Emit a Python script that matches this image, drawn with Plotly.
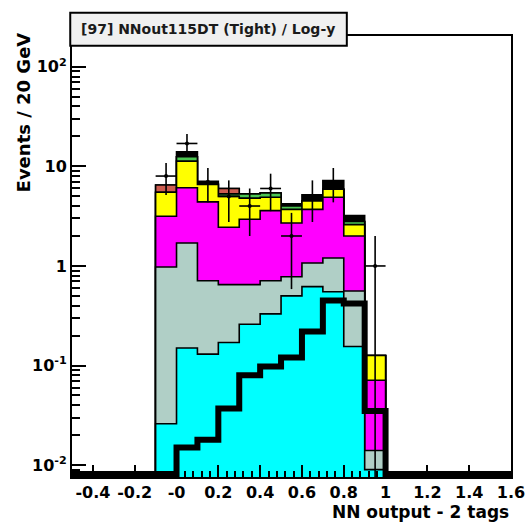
import numpy as np
import plotly.graph_objects as go

# Histogram binning (NN output, bins of 0.1)
bin_edges = [-0.1, 0.0, 0.1, 0.2, 0.3, 0.4, 0.5, 0.6, 0.7, 0.8, 0.9, 1.0]

# Background components, stacked from bottom to top
bkg_cyan = [0.026, 0.15, 0.13, 0.17, 0.26, 0.33, 0.50, 0.62, 0.55, 0.155, 0.009]
bkg_gray = [0.95, 1.55, 0.58, 0.48, 0.39, 0.38, 0.28, 0.45, 0.65, 0.405, 0.005]
bkg_magenta = [2.18, 4.4, 3.69, 1.8, 2.3, 2.89, 1.92, 2.63, 3.7, 1.44, 0.057]
bkg_yellow = [2.34, 5.2, 2.2, 2.55, 1.85, 1.3, 1.0, 0.8, 1.0, 0.6, 0.055]
bkg_green = [0.0, 1.2, 0.0, 0.3, 0.5, 0.5, 0.3, 0.0, 0.0, 0.2, 0.0]
bkg_red = [1.0, 0.0, 0.0, 0.7, 0.0, 0.0, 0.0, 0.0, 0.0, 0.0, 0.0]
bkg_black = [0.0, 1.5, 0.5, 0.0, 0.0, 0.0, 0.2, 0.7, 1.3, 0.4, 0.0]

# Signal expectation (drawn as thick line, not stacked)
signal = [0.0, 0.015, 0.018, 0.037, 0.08, 0.098, 0.12, 0.22, 0.45, 0.42, 0.035]

# Observed data counts
data_counts = [8, 17, 7, 5, 4, 6, 2, 5, 7, 0, 1]

# Axis settings
x_range = [-0.5, 1.6]
y_log_range = [-2.12, 2.31]
x_tick_vals = [-0.4, -0.2, 0.0, 0.2, 0.4, 0.6, 0.8, 1.0, 1.2, 1.4, 1.6]
x_tick_text = ["-0.4", "-0.2", "-0", "0.2", "0.4", "0.6", "0.8", "1", "1.2", "1.4", "1.6"]
y_tick_vals = [0.01, 0.1, 1, 10, 100]
y_tick_text = ["10<sup>-2</sup>", "10<sup>-1</sup>", "1", "10", "10<sup>2</sup>"]

stack_layers = [
    ("cyan", bkg_cyan, "#00ffff"),
    ("gray", bkg_gray, "#b0cfc6"),
    ("magenta", bkg_magenta, "#ff00ff"),
    ("yellow", bkg_yellow, "#ffff00"),
    ("green", bkg_green, "#4cc552"),
    ("red", bkg_red, "#cd5c50"),
    ("black", bkg_black, "#000000"),
]

FONT = "DejaVu Sans"
edges = np.array(bin_edges)
floor = 10 ** (y_log_range[0] - 1.0)


def step_xy(values, base):
    xs, ys = [edges[0]], [base]
    for i, v in enumerate(values):
        xs += [edges[i], edges[i + 1]]
        ys += [v, v]
    xs.append(edges[-1])
    ys.append(base)
    return xs, ys


fig = go.Figure()

# cumulative stack, drawn from the largest sum down so lower layers overlay
cumulative = np.cumsum([np.array(v) for _, v, _ in stack_layers], axis=0)
for k in range(len(stack_layers) - 1, -1, -1):
    name, _, color = stack_layers[k]
    xs, ys = step_xy(cumulative[k], floor)
    fig.add_trace(go.Scatter(
        x=xs, y=ys, mode="lines", fill="toself", fillcolor=color,
        line=dict(color="black", width=1.6), hoverinfo="skip", showlegend=False,
    ))

# signal histogram: empty bins rest on the bottom of the frame
bottom = 10 ** (y_log_range[0] + 0.03)
sig = [v if v > 0 else bottom for v in signal]
sx, sy = [x_range[0], edges[0]], [bottom, bottom]
for i, v in enumerate(sig):
    sx += [edges[i], edges[i + 1]]
    sy += [v, v]
sx += [edges[-1], x_range[1]]
sy += [bottom, bottom]
fig.add_trace(go.Scatter(
    x=sx, y=sy, mode="lines", line=dict(color="black", width=6),
    hoverinfo="skip", showlegend=False,
))

# data points with Poisson errors and bin-width horizontal bars
centers = (edges[:-1] + edges[1:]) / 2
half_w = (edges[1:] - edges[:-1]) / 2
counts = np.array(data_counts, dtype=float)
mask = counts > 0
err = np.sqrt(counts[mask])
err_lo = np.minimum(err, counts[mask] - 1e-4)
fig.add_trace(go.Scatter(
    x=centers[mask], y=counts[mask], mode="markers",
    marker=dict(color="black", size=4),
    error_x=dict(type="data", array=half_w[mask], color="black", thickness=1.6, width=0),
    error_y=dict(type="data", array=err, arrayminus=err_lo, symmetric=False,
                 color="black", thickness=1.6, width=0),
    hoverinfo="skip", showlegend=False,
))

x_minor = [round(v, 2) for v in np.arange(-0.48, 1.6, 0.04)]
y_minor = [m * 10.0 ** e for e in range(-3, 3) for m in range(2, 10)]

fig.update_layout(
    width=527, height=526,
    margin=dict(l=72, r=16, t=36, b=49, autoexpand=False),
    paper_bgcolor="white", plot_bgcolor="white",
    font=dict(family=FONT, color="black"),
    xaxis=dict(
        range=x_range, showgrid=False, zeroline=False, automargin=False,
        showline=True, linecolor="black", linewidth=2, mirror=True,
        ticks="inside", ticklen=12, tickwidth=1.5, tickcolor="black",
        tickvals=x_tick_vals, ticktext=x_tick_text,
        tickfont=dict(family=FONT, size=16, color="black", weight="bold"),
        minor=dict(tickvals=x_minor, ticks="inside", ticklen=6, tickwidth=1.5, tickcolor="black"),
    ),
    yaxis=dict(
        type="log", range=y_log_range, showgrid=False, zeroline=False, automargin=False,
        showline=True, linecolor="black", linewidth=2, mirror=True,
        ticks="inside", ticklen=14, tickwidth=1.5, tickcolor="black",
        tickvals=y_tick_vals, ticktext=y_tick_text,
        tickfont=dict(family=FONT, size=16, color="black", weight="bold"),
        minor=dict(tickvals=y_minor, ticks="inside", ticklen=8, tickwidth=1.5, tickcolor="black"),
    ),
)

# axis titles, placed as in a ROOT canvas
fig.add_annotation(
    text="<b>NN output - 2 tags</b>", xref="paper", yref="paper",
    x=1.0, y=-0.052, xanchor="right", yanchor="top", showarrow=False,
    font=dict(family=FONT, size=17, color="black"),
)
fig.add_annotation(
    text="<b>Events / 20 GeV</b>", xref="paper", yref="paper",
    x=-0.11, y=1.012, xanchor="center", yanchor="top", textangle=-90, showarrow=False,
    font=dict(family=FONT, size=18, color="black"),
)

# title box
fig.add_shape(
    type="rect", xref="paper", yref="paper",
    x0=-0.004, x1=0.626, y0=0.978, y1=1.053,
    fillcolor="#f0f0f0", line=dict(color="black", width=2), layer="above",
)
fig.add_annotation(
    text="<b>[97] NNout115DT (Tight) / Log-y</b>", xref="paper", yref="paper",
    x=0.015, y=1.016, xanchor="left", yanchor="middle", showarrow=False,
    font=dict(family=FONT, size=14, color="#1a1a1a"),
)

fig.write_html("out.html")
